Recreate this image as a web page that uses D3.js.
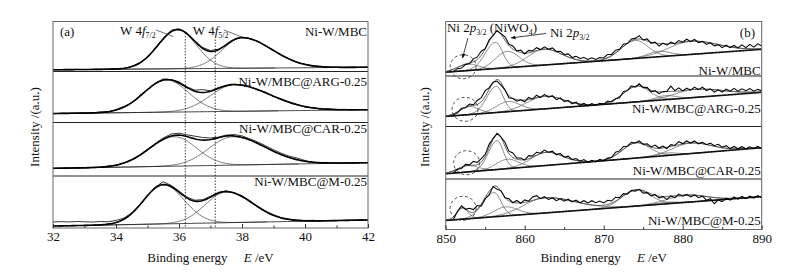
<!DOCTYPE html>
<html lang="en">
<head>
<meta charset="UTF-8">
<title>XPS W 4f / Ni 2p</title>
<script src="https://d3js.org/d3.v7.min.js"></script>
<style>
  body { margin: 0; background: #fff; }
  svg text { font-family: "Liberation Serif", "Times New Roman", serif; fill: #111; }
</style>
</head>
<body>
<svg id="chart" width="791" height="275"></svg>
<script>
// sample names, top panel to bottom panel
const samples = ["Ni-W/MBC", "Ni-W/MBC@ARG-0.25", "Ni-W/MBC@CAR-0.25", "Ni-W/MBC@M-0.25"];

// ---- (a) W 4f : raw spectra, one value every 0.25 eV from 32 eV (panel units 0-100)
const wStart = 32, wStep = 0.25;
const wRawMBC = [3.2, 3.8, 3.4, 4.1, 3.7, 4.3, 4.0, 4.6, 5.3, 6.0, 10.5, 17.5, 28.5, 47.5, 66, 82.5, 85.5, 77, 61.5, 48, 42, 44.5, 53, 64.5, 69, 66, 60.5, 50.5, 42.5, 33.5, 25.5, 18, 14.8, 11, 10.2, 8.4, 9.0, 8.1, 8.7, 8.2, 8.9];
const wRawARG = [17.0, 18.2, 17.5, 18.6, 18.0, 19.0, 20.8, 20.5, 25.5, 31.5, 38.5, 53, 65, 77.5, 85.5, 84, 80, 70, 63.5, 64.5, 62, 68.5, 71.5, 75, 74, 70.5, 63.5, 59.5, 51, 46.5, 40, 35.5, 30.5, 29.5, 26, 27, 25.5, 25.8, 24.6, 25.4, 24.8];
const wRawCAR = [14.0, 14.9, 14.5, 15.3, 15.0, 16.2, 16.0, 18.5, 20.5, 24.8, 31, 39.5, 50, 61, 71, 78.5, 80, 77, 74.5, 72, 71, 72.5, 76.5, 77.5, 75, 69.5, 63.5, 56.5, 49, 42.5, 37, 33.5, 29, 25.5, 24.2, 25, 24.0, 24.6, 24.1, 25.0, 24.6];
const wRawM = [11.5, 12.3, 11.6, 12.5, 12.0, 11.4, 12.5, 12.0, 14.5, 19, 29, 45, 63, 79, 89, 82, 71, 59.5, 53.5, 54.5, 61, 68.5, 71.5, 68, 62, 52.5, 41.5, 32.5, 25.5, 20, 17.2, 15.5, 14.5, 14.8, 13.9, 14.6, 14.4, 15.1, 14.8, 15.6, 15.3];
// fitted components: [centre eV, height, left sigma, right sigma]
const wPeaksMBC = [[35.95, 78, 0.62, 0.60], [38.00, 61, 0.63, 0.95]];
const wPeaksARG = [[35.60, 63, 0.72, 0.70], [37.75, 52, 0.75, 1.15]];
const wPeaksCAR = [[35.85, 55, 0.80, 0.70], [37.70, 53, 0.75, 1.05]];
const wPeaksM = [[35.50, 75, 0.63, 0.66], [37.50, 59, 0.66, 0.85]];
// background at 32 eV and 42 eV
const wBg = [[3.5, 8.5], [17.6, 25.0], [14.3, 24.9], [3.8, 15.4]];
const wMajor = [32, 34, 36, 38, 40, 42];
const wMinor = [33, 35, 37, 39, 41];
const wRefLines = [36.2, 37.15];

// ---- (b) Ni 2p : raw spectra, one value every 0.5 eV from 851 eV
const nStart = 851, nStep = 0.5;
const nRawMBC = [8.5, 13.5, 14.5, 21, 22.5, 31.5, 35, 45.5, 50, 66.5, 74, 83.5, 77.5, 72, 58.5, 55, 46, 47.5, 40.5, 47, 46, 52, 48.5, 53.5, 49, 51.5, 45, 45.5, 39.5, 40.5, 34, 36, 32, 34, 30.5, 33.5, 30.5, 34, 33, 39.5, 39.5, 47.5, 49, 58.5, 59.5, 68, 69, 74, 66, 68, 60, 62, 55, 60.5, 56.5, 62, 59, 65, 62, 67.5, 63.5, 67, 61, 63.5, 58, 61, 55, 57.5, 52, 56.5, 52, 56, 51.5, 57, 52, 58, 53, 59, 55];
const nRawARG = [23, 27, 36, 37, 44.5, 43, 51.5, 57, 71, 76.5, 87.5, 90, 82, 72.5, 57, 55.5, 50, 53, 49, 57.5, 54, 62, 57, 63.5, 58, 61, 53, 56.5, 49, 52, 45, 48.5, 42, 46, 41, 45.5, 42, 46, 44, 50.5, 48.5, 55, 57, 69.5, 71, 80.5, 78, 84.5, 77, 77.5, 68.5, 71, 65, 69, 70, 80, 71, 76.5, 70.5, 76, 72, 78, 73, 78, 71, 74.5, 68, 72.5, 68, 74, 70, 75.5, 70, 74.5, 71, 75, 70, 73.5, 71];
const nRawCAR = [12, 18.5, 20, 28, 27, 33.5, 31.5, 39, 47, 66, 77, 87, 80, 70, 53, 49.5, 40, 40, 36, 44.5, 44, 51, 49, 55, 51, 53, 46, 49, 41.5, 43.5, 37, 39, 34, 37, 32, 35.5, 32.5, 37.5, 35, 40, 41, 51, 53.5, 62, 62.5, 70, 68.5, 72.5, 66, 67, 61, 64.5, 59, 62.5, 58, 65.5, 64, 71, 67.5, 72.5, 68.5, 72.5, 67, 70, 65.5, 68.5, 63.5, 66, 60.5, 63.5, 58, 62, 57.5, 61.5, 57.5, 61.5, 58, 62, 58];
const nRawM = [21, 36, 47, 40, 42, 39.5, 47.5, 46, 61, 69, 85, 79.5, 77, 63, 61, 53, 57.5, 52, 58.5, 56, 64.5, 67, 61, 65, 59.5, 62.5, 57, 61, 56, 60, 54.5, 58, 53, 57, 52.5, 57, 53, 56.5, 52.5, 58, 56.5, 64, 63, 71, 70, 77.5, 76, 79.5, 72, 73, 66.5, 69.5, 62.5, 65, 59.5, 66.5, 63, 70, 66, 69.5, 64.5, 68.5, 63, 66, 58, 61, 51, 58.5, 55, 62, 58, 64.5, 60, 65.5, 61, 66, 62, 67, 63.5];
const nPeaksMBC = [[852.8, 12, 1.3, 1.3], [856.3, 48, 1.3, 0.9], [857.8, 30, 1.5, 1.5], [862.4, 29, 2.0, 2.3], [874.0, 33, 1.8, 1.6], [877.0, 10, 1.4, 1.4], [881.0, 24, 2.8, 3.5]];
const nPeaksARG = [[853.0, 16, 1.2, 1.2], [856.4, 52, 1.2, 0.85], [857.9, 20, 1.5, 1.5], [862.5, 25, 2.2, 2.4], [874.2, 31, 1.7, 1.6], [877.8, 8, 1.3, 1.3], [881.5, 16, 2.5, 3.5]];
const nPeaksCAR = [[852.8, 12, 1.3, 1.3], [856.5, 55, 1.1, 0.8], [857.8, 18, 1.4, 1.4], [862.7, 25, 1.9, 2.1], [874.1, 29, 1.7, 1.7], [878.0, 5, 1.2, 1.2], [881.0, 20, 2.3, 2.6]];
const nPeaksM = [[852.1, 22, 0.7, 0.7], [856.1, 48, 1.4, 0.9], [857.6, 18, 1.5, 1.5], [862.5, 30, 2.6, 3.8], [874.1, 32, 1.8, 1.8], [878.0, 3, 1.3, 1.3], [880.5, 14, 2.5, 2.5]];
// background at 850 eV and 890 eV
const nBg = [[7.0, 49.0], [20.0, 67.6], [10.0, 59.6], [17.9, 65.1]];
const nMajor = [850, 860, 870, 880, 890];
const nMinor = [855, 865, 875, 885];
// dashed circles around the small low-energy feature: [eV, panel units]
const nCircles = [[852.2, 17], [852.45, 34], [852.65, 31], [852.2, 42]];

const svg = d3.select("#chart");

function gauss(e, p) {
  const s = e < p[0] ? p[2] : p[3];
  return p[1] * Math.exp(-((e - p[0]) ** 2) / (2 * s * s));
}

function richText(g, x, y, parts, anchor) {
  const t = g.append("text").attr("x", x).attr("y", y)
    .attr("font-size", 13).attr("text-anchor", anchor || "start");
  let low = false;
  parts.forEach(p => {
    const s = t.append("tspan").text(p.t);
    if (p.i) s.attr("font-style", "italic");
    if (p.sub) { s.attr("font-size", 8); if (!low) s.attr("dy", 3); low = true; }
    else if (low) { s.attr("dy", -3); low = false; }
  });
  return t;
}

svg.append("defs").append("marker")
  .attr("id", "arr").attr("viewBox", "0 0 10 10").attr("refX", 9).attr("refY", 5)
  .attr("markerWidth", 6).attr("markerHeight", 6).attr("orient", "auto")
  .append("path").attr("d", "M0,1 L10,5 L0,9 Z").attr("fill", "#111");

function drawChart(cfg) {
  const x = d3.scaleLinear().domain(cfg.domain).range([cfg.x0, cfg.x1]);
  const b = cfg.bounds;
  const g = svg.append("g");
  const clipId = "clip" + cfg.id;
  svg.select("defs").append("clipPath").attr("id", clipId)
    .append("rect").attr("x", cfg.x0).attr("y", b[0])
    .attr("width", cfg.x1 - cfg.x0).attr("height", b[4] - b[0]);
  const plot = g.append("g").attr("clip-path", `url(#${clipId})`);
  const grid = d3.range(cfg.domain[0], cfg.domain[1] + cfg.fitStep / 2, cfg.fitStep);
  const ys = [];

  cfg.raw.forEach((raw, i) => {
    const y = d3.scaleLinear().domain([0, 100]).range([b[i + 1], b[i]]);
    ys.push(y);
    const bg = e => cfg.bg[i][0] + (cfg.bg[i][1] - cfg.bg[i][0]) * (e - cfg.domain[0]) / (cfg.domain[1] - cfg.domain[0]);
    const line = d3.line().x(d => x(d[0])).y(d => y(d[1]));
    const peaks = cfg.peaks[i];

    // components
    peaks.forEach(p => {
      const pts = grid.filter(e => Math.abs(e - p[0]) < 5 * Math.max(p[2], p[3]))
        .map(e => [e, bg(e) + gauss(e, p)]);
      plot.append("path").attr("d", line(pts)).attr("fill", "none")
        .attr("stroke", cfg.compColor).attr("stroke-width", 0.7);
    });
    // background
    plot.append("path").attr("d", line(grid.map(e => [e, bg(e)])))
      .attr("fill", "none").attr("stroke", "#111").attr("stroke-width", cfg.bgWidth);
    // envelope
    const env = grid.map(e => [e, bg(e) + d3.sum(peaks, p => gauss(e, p))]);
    plot.append("path").attr("d", line(env)).attr("fill", "none")
      .attr("stroke", cfg.envColor).attr("stroke-width", cfg.envWidth);
    // raw data
    const rawPts = raw.map((v, k) => [cfg.rawStart + k * cfg.rawStep, v]);
    plot.append("path").attr("d", line(rawPts)).attr("fill", "none")
      .attr("stroke", "#000").attr("stroke-width", cfg.rawWidth);

    // sample label
    g.append("text").attr("x", cfg.x1 - 1).attr("y", cfg.labelY[i])
      .attr("text-anchor", "end").attr("font-size", 13).text(samples[i]);
  });

  // separators and frame
  b.slice(1, 4).forEach(yy => {
    g.append("line").attr("x1", cfg.x0).attr("x2", cfg.x1).attr("y1", yy).attr("y2", yy)
      .attr("stroke", "#222").attr("stroke-width", 1);
  });
  g.append("rect").attr("x", cfg.x0).attr("y", b[0]).attr("width", cfg.x1 - cfg.x0)
    .attr("height", b[4] - b[0]).attr("fill", "none").attr("stroke", "#666").attr("stroke-width", 1);

  // bottom axis, ticks pointing inwards
  const ax = g.append("g").attr("transform", `translate(0,${b[4]})`)
    .call(d3.axisBottom(x).tickValues(cfg.major).tickSize(-4).tickPadding(4).tickFormat(d3.format("d")));
  ax.select(".domain").remove();
  ax.selectAll("text").attr("font-size", 13).attr("font-family", "Liberation Serif").attr("fill", "#111");
  ax.selectAll("line").attr("stroke", "#333");
  const axm = g.append("g").attr("transform", `translate(0,${b[4]})`)
    .call(d3.axisBottom(x).tickValues(cfg.minor).tickSize(-2.5).tickFormat(""));
  axm.select(".domain").remove();
  axm.selectAll("line").attr("stroke", "#333");

  // axis titles
  const xt = g.append("text").attr("x", (cfg.x0 + cfg.x1) / 2).attr("y", 262)
    .attr("text-anchor", "middle").attr("font-size", 13);
  xt.append("tspan").text("Binding energy\u00a0\u00a0\u00a0\u00a0\u00a0");
  xt.append("tspan").attr("font-style", "italic").text("E");
  xt.append("tspan").text(" /eV");
  g.append("text").attr("transform", `translate(${cfg.yTitleX},127) rotate(-90)`)
    .attr("text-anchor", "middle").attr("font-size", 13).text("Intensity /(a.u.)");

  return { g, x, ys };
}

// ---- panel (a)
const A = drawChart({
  id: "a", domain: [32, 42], x0: 53, x1: 368,
  bounds: [21.5, 71.5, 122.5, 176, 228],
  raw: [wRawMBC, wRawARG, wRawCAR, wRawM], rawStart: wStart, rawStep: wStep,
  peaks: [wPeaksMBC, wPeaksARG, wPeaksCAR, wPeaksM], bg: wBg, fitStep: 0.05,
  major: wMajor, minor: wMinor, labelY: [35.5, 85.5, 132.5, 186],
  compColor: "#444", envColor: "#000", envWidth: 1.6, bgWidth: 0.8, rawWidth: 0.8,
  yTitleX: 39
});
wRefLines.forEach(e => {
  A.g.append("line").attr("x1", A.x(e)).attr("x2", A.x(e))
    .attr("y1", A.ys[0](e < 37 ? 77 : 64)).attr("y2", 228)
    .attr("stroke", "#111").attr("stroke-width", 0.8).attr("stroke-dasharray", "1.5,1.5");
});
A.g.append("text").attr("x", 60).attr("y", 36).attr("font-size", 13).text("(a)");
richText(A.g, A.x(34.13), A.ys[0](73), [{ t: "W 4" }, { t: "f", i: true }, { t: "7/2", sub: true }]);
richText(A.g, A.x(36.44), A.ys[0](73), [{ t: "W 4" }, { t: "f", i: true }, { t: "5/2", sub: true }]);
[[[35.27, 83], [35.82, 70]], [[37.43, 83], [37.99, 69]]].forEach(l => {
  A.g.append("line").attr("x1", A.x(l[0][0])).attr("y1", A.ys[0](l[0][1]))
    .attr("x2", A.x(l[1][0])).attr("y2", A.ys[0](l[1][1]))
    .attr("stroke", "#333").attr("stroke-width", 0.7);
});

// ---- panel (b)
const B = drawChart({
  id: "b", domain: [850, 890], x0: 445.7, x1: 761.7,
  bounds: [21.5, 76, 126.5, 179, 229.5],
  raw: [nRawMBC, nRawARG, nRawCAR, nRawM], rawStart: nStart, rawStep: nStep,
  peaks: [nPeaksMBC, nPeaksARG, nPeaksCAR, nPeaksM], bg: nBg, fitStep: 0.1,
  major: nMajor, minor: nMinor, labelY: [74.5, 112.5, 174.5, 225],
  compColor: "#555", envColor: "#333", envWidth: 0.8, bgWidth: 1.6, rawWidth: 1.05,
  yTitleX: 429
});
nCircles.forEach((c, i) => {
  B.g.append("ellipse").attr("cx", B.x(c[0])).attr("cy", B.ys[i](c[1]))
    .attr("rx", 13).attr("ry", 12).attr("fill", "none")
    .attr("stroke", "#222").attr("stroke-width", 0.8).attr("stroke-dasharray", "3,2.5");
});
B.g.append("text").attr("x", 755).attr("y", 37).attr("font-size", 13)
  .attr("text-anchor", "end").text("(b)");
richText(B.g, B.x(850.16), B.ys[0](80.7), [{ t: "Ni 2" }, { t: "p", i: true }, { t: "3/2", sub: true },
  { t: " (NiWO" }, { t: "4", sub: true }, { t: ")" }]);
richText(B.g, B.x(863.2), B.ys[0](71.6), [{ t: "Ni 2" }, { t: "p", i: true }, { t: "3/2", sub: true }]);
[[[852.82, 69.7], [852.13, 33]], [[862.7, 78], [858.3, 70]]].forEach(l => {
  B.g.append("line").attr("x1", B.x(l[0][0])).attr("y1", B.ys[0](l[0][1]))
    .attr("x2", B.x(l[1][0])).attr("y2", B.ys[0](l[1][1]))
    .attr("stroke", "#111").attr("stroke-width", 0.8).attr("marker-end", "url(#arr)");
});
</script>
</body>
</html>
